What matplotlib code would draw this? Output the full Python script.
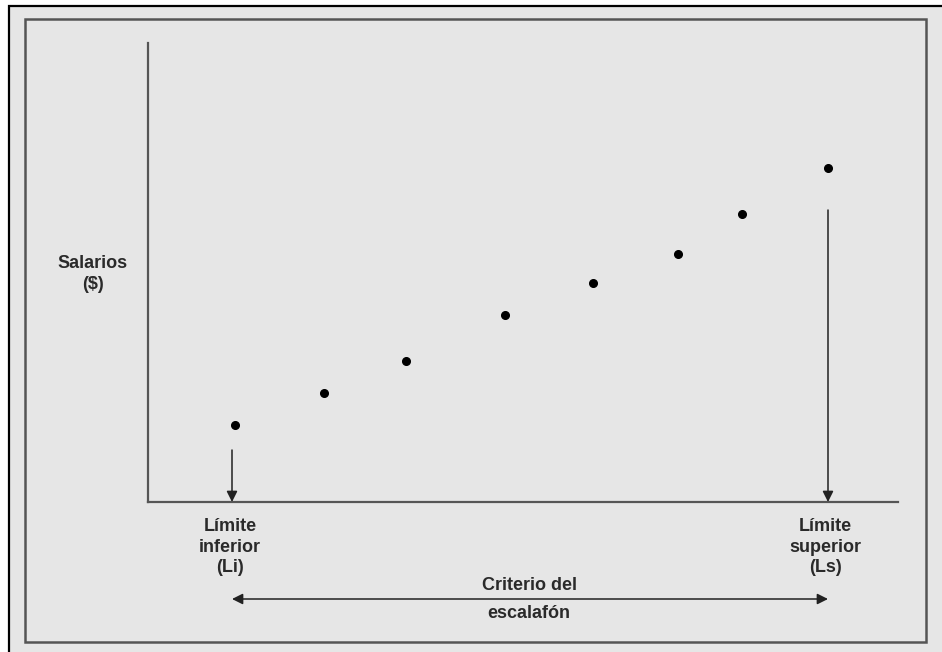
import matplotlib.pyplot as plt
from matplotlib.patches import Rectangle

# data (arbitrary units)
grade_pos = [87, 176, 258, 357, 445, 530, 594, 680]
salaries = [77, 109, 141, 187, 219, 248, 288, 334]
li_pos = 84
ls_pos = 680
li_arrow_top = 52
ls_arrow_top = 292

x_max = 750
y_max = 459

bg = "#e6e6e6"
ink = "#222222"
frame_col = "#555555"
text_col = "#2a2a2a"

fig = plt.figure(figsize=(9.42, 6.52), dpi=100)
fig.patch.set_facecolor("white")

W, H = 942, 652

def fx(px):
    return px / W

def fy(py):
    return 1 - py / H

# grey page with black outer edge (cut off at right/bottom), grey inner frame
fig.add_artist(Rectangle((fx(9), -0.1), 1.2, fy(6) + 0.1, transform=fig.transFigure,
                         facecolor=bg, edgecolor="black", linewidth=1.6, zorder=0))
fig.add_artist(Rectangle((fx(25), fy(642)), fx(926) - fx(25), fy(19) - fy(642),
                         transform=fig.transFigure, facecolor="none",
                         edgecolor=frame_col, linewidth=1.8, zorder=1))

ax = fig.add_axes([fx(148), fy(502), fx(898) - fx(148), fy(43) - fy(502)])
ax.set_facecolor("none")
ax.set_xlim(0, x_max)
ax.set_ylim(0, y_max)
for s in ["top", "right"]:
    ax.spines[s].set_visible(False)
for s in ["left", "bottom"]:
    ax.spines[s].set_color(frame_col)
    ax.spines[s].set_linewidth(1.6)
ax.set_xticks([])
ax.set_yticks([])

ax.plot(grade_pos, salaries, "o", color="black", markersize=5.5, zorder=5)

arrow_kw = dict(arrowstyle="-|>", color=ink, lw=1.1, mutation_scale=16,
                shrinkA=0, shrinkB=0)
ax.annotate("", xy=(li_pos, 0), xytext=(li_pos, li_arrow_top), arrowprops=arrow_kw)
ax.annotate("", xy=(ls_pos, 0), xytext=(ls_pos, ls_arrow_top), arrowprops=arrow_kw)

# double arrow below the axis
arr_y = -97
ax.annotate("", xy=(li_pos, arr_y), xytext=(ls_pos, arr_y),
            arrowprops=dict(arrowstyle="<|-|>", color=ink, lw=1.1, mutation_scale=16,
                            shrinkA=0, shrinkB=0), annotation_clip=False)

txt_kw = dict(fontsize=13, fontweight="bold", color=text_col, family="Liberation Sans",
              ha="center", va="center", linespacing=1.3)
ax.text(li_pos - 2, -45, "Límite\ninferior\n(Li)", clip_on=False, **txt_kw)
ax.text(ls_pos - 3, -45, "Límite\nsuperior\n(Ls)", clip_on=False, **txt_kw)
ax.text(382, -83, "Criterio del", clip_on=False, **txt_kw)
ax.text(381, -111, "escalafón", clip_on=False, **txt_kw)

fig.text(fx(93), fy(274), "Salarios\n($)", **txt_kw)

fig.savefig("out.png", dpi=100)
